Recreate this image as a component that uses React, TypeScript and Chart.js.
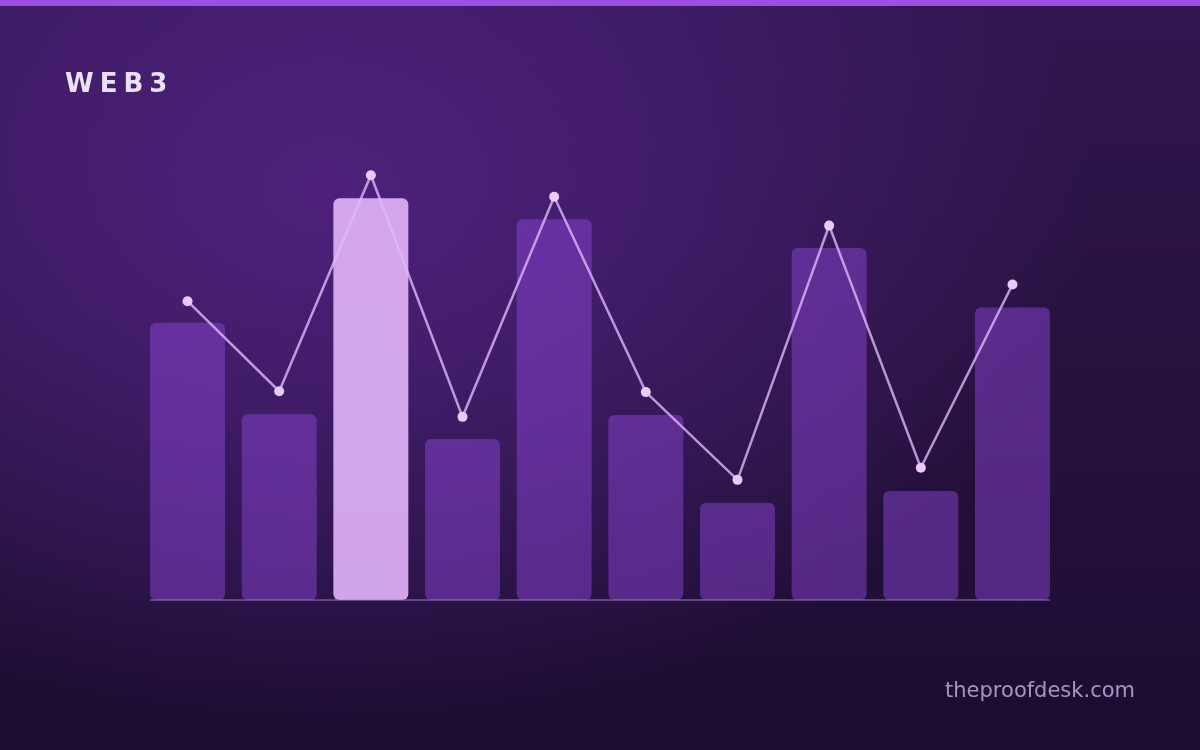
import React, { useEffect, useRef } from "react";
import { Chart, registerables } from "chart.js";

Chart.register(...registerables);

const categories = ["1", "2", "3", "4", "5", "6", "7", "8", "9", "10"];
const barValues = [61.6, 41.3, 89.3, 35.8, 84.6, 41.1, 21.6, 78.2, 24.2, 65.0];
const lineValues = [66.4, 46.4, 94.4, 40.7, 89.6, 46.2, 26.7, 83.2, 29.4, 70.1];
const highlightIndex = 2;
const titleText = "WEB3";
const watermarkText = "theproofdesk.com";

const baselinePlugin = {
  id: "baselinePlugin",
  afterDatasetsDraw(chart: any) {
    const meta = chart.getDatasetMeta(1);
    if (!meta || !meta.data.length) return;
    const first = meta.data[0] as any;
    const last = meta.data[meta.data.length - 1] as any;
    const left = first.x - first.width / 2;
    const right = last.x + last.width / 2;
    const y = chart.scales.y.getPixelForValue(0);
    const ctx = chart.ctx;
    ctx.save();
    ctx.strokeStyle = "rgba(170,130,215,0.6)";
    ctx.lineWidth = 1.5;
    ctx.beginPath();
    ctx.moveTo(left, y);
    ctx.lineTo(right, y);
    ctx.stroke();
    ctx.restore();
  },
};

export default function App() {
  const canvasRef = useRef<HTMLCanvasElement | null>(null);

  useEffect(() => {
    document.body.style.margin = "0";
    const canvas = canvasRef.current;
    if (!canvas) return;
    const barColors = barValues.map((_, i) =>
      i === highlightIndex ? "rgba(216,172,240,0.96)" : "rgba(146,74,224,0.45)"
    );
    const chart = new Chart(canvas, {
      type: "bar",
      data: {
        labels: categories,
        datasets: [
          {
            type: "line",
            data: lineValues,
            borderColor: "rgba(222,184,250,0.8)",
            borderWidth: 2.5,
            pointRadius: 5,
            pointBackgroundColor: "#e8cbfb",
            pointBorderWidth: 0,
            tension: 0,
            order: 0,
          } as any,
          {
            type: "bar",
            data: barValues,
            backgroundColor: barColors,
            borderRadius: 6,
            borderSkipped: false,
            barPercentage: 0.818,
            categoryPercentage: 1,
            order: 1,
          } as any,
        ],
      },
      options: {
        responsive: false,
        animation: false,
        layout: { padding: { left: 141.7, right: 141.7, top: 150, bottom: 150 } },
        plugins: { legend: { display: false }, tooltip: { enabled: false } },
        scales: {
          x: { display: false },
          y: { display: false, min: 0, max: 100 },
        },
      },
      plugins: [baselinePlugin],
    });
    return () => chart.destroy();
  }, []);

  return (
    <div
      style={{
        position: "fixed",
        left: 0,
        top: 0,
        width: 1200,
        height: 750,
        overflow: "hidden",
        background:
          "radial-gradient(ellipse 760px 540px at 330px 190px, rgba(80,34,128,0.92) 0%, rgba(80,34,128,0.62) 40%, rgba(80,34,128,0) 100%), linear-gradient(180deg, #30164f 0%, #27123f 50%, #1b0c30 100%)",
      }}
    >
      <div style={{ position: "absolute", left: 0, top: 0, width: 1200, height: 6, background: "#9b4fe3" }} />
      <canvas ref={canvasRef} width={1200} height={750} style={{ position: "absolute", left: 0, top: 0 }} />
      <div
        style={{
          position: "absolute",
          left: 65,
          top: 70,
          fontFamily: "'DejaVu Sans', sans-serif",
          fontWeight: "bold",
          fontSize: 26,
          lineHeight: "26px",
          letterSpacing: 6,
          color: "#ece0f6",
        }}
      >
        {titleText}
      </div>
      <div
        style={{
          position: "absolute",
          right: 65,
          top: 680,
          fontFamily: "'DejaVu Sans', sans-serif",
          fontSize: 21,
          lineHeight: "21px",
          color: "#a994c2",
        }}
      >
        {watermarkText}
      </div>
    </div>
  );
}
